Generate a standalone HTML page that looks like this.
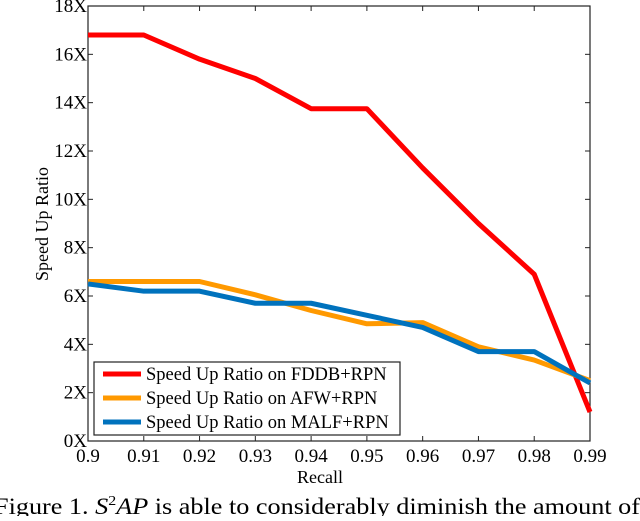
<!DOCTYPE html>
<html><head><meta charset="utf-8"><style>
body{margin:0;background:#fff;width:640px;height:516px;overflow:hidden;font-family:"Liberation Serif",serif}
svg text{font-family:"Liberation Serif",serif}
</style></head><body>
<svg width="640" height="516">
<g id="axes"></g>
<g id="series"></g>
<g id="legend"></g>
<text x="320" y="483" text-anchor="middle" font-size="18">Recall</text>
<text transform="translate(48,224) rotate(-90)" text-anchor="middle" font-size="18">Speed Up Ratio</text>
<text x="-6" y="514" font-size="23" textLength="646" lengthAdjust="spacingAndGlyphs">Figure 1. <tspan font-style="italic">S</tspan><tspan font-size="14" dy="-9">2</tspan><tspan font-style="italic" dy="9">AP</tspan> is able to considerably diminish the amount of</text>
</svg>
<script>
const xTicks=[0.9,0.91,0.92,0.93,0.94,0.95,0.96,0.97,0.98,0.99];
const xTickLabels=["0.9","0.91","0.92","0.93","0.94","0.95","0.96","0.97","0.98","0.99"];
const yTicks=[0,2,4,6,8,10,12,14,16,18];
const yTickLabels=["0X","2X","4X","6X","8X","10X","12X","14X","16X","18X"];
const recall=[0.9,0.91,0.92,0.93,0.94,0.95,0.96,0.97,0.98,0.99];
const fddb=[16.8,16.8,15.8,15.0,13.75,13.75,11.3,9.0,6.9,1.2];
const afw=[6.6,6.6,6.6,6.05,5.4,4.85,4.9,3.9,3.35,2.5];
const malf=[6.5,6.2,6.2,5.7,5.7,5.2,4.7,3.7,3.7,2.4];
const seriesNames=["Speed Up Ratio on FDDB+RPN","Speed Up Ratio on AFW+RPN","Speed Up Ratio on MALF+RPN"];
const L=88,R=590,T=6,B=441;
const xs=v=>L+(v-0.9)/0.09*(R-L);
const ys=v=>B-v/18*(B-T);
const NS="http://www.w3.org/2000/svg";
function mk(tag,attrs,parent){const e=document.createElementNS(NS,tag);for(const k in attrs)e.setAttribute(k,attrs[k]);parent.appendChild(e);return e;}
const ax=document.getElementById('axes');
let frame=mk('rect',{x:L,y:T,width:R-L,height:B-T,fill:'none',stroke:'#222','stroke-width':1.2},ax);


xTicks.forEach((t,i)=>{const x=xs(t);
 mk('line',{x1:x,x2:x,y1:B,y2:B-5,stroke:'#222'},ax);
 mk('line',{x1:x,x2:x,y1:T,y2:T+5,stroke:'#222'},ax);
 const tx=mk('text',{x:x,y:B+21,'text-anchor':'middle','font-size':19},ax);tx.textContent=xTickLabels[i];
 
 
});
yTicks.forEach((t,i)=>{const y=ys(t);
 mk('line',{x1:L,x2:L+5,y1:y,y2:y,stroke:'#222'},ax);
 mk('line',{x1:R,x2:R-5,y1:y,y2:y,stroke:'#222'},ax);
 const tx=mk('text',{x:L-1,y:y+6,'text-anchor':'end','font-size':19},ax);tx.textContent=yTickLabels[i];
 
 
});
const sg=document.getElementById('series');
const colors=['#ff0000','#ff9900','#0072bd'];
[fddb,afw,malf].forEach((d,k)=>{
 const p=mk('polyline',{points:d.map((v,i)=>xs(recall[i])+','+ys(v)).join(' '),fill:'none',stroke:colors[k],'stroke-width':5,'stroke-linejoin':'round'},sg);
 
 
});
const lg=document.getElementById('legend');
const box=mk('rect',{x:94,y:362,width:306,height:73,fill:'#fff',stroke:'#222','stroke-width':1.2},lg);


seriesNames.forEach((n,k)=>{const y=374+k*24;
 mk('line',{x1:103,x2:141,y1:y,y2:y,stroke:colors[k],'stroke-width':5},lg);
 const t=mk('text',{x:146,y:y+6,'font-size':18.5},lg);t.textContent=n;
 
 
});
</script>
</body></html>
